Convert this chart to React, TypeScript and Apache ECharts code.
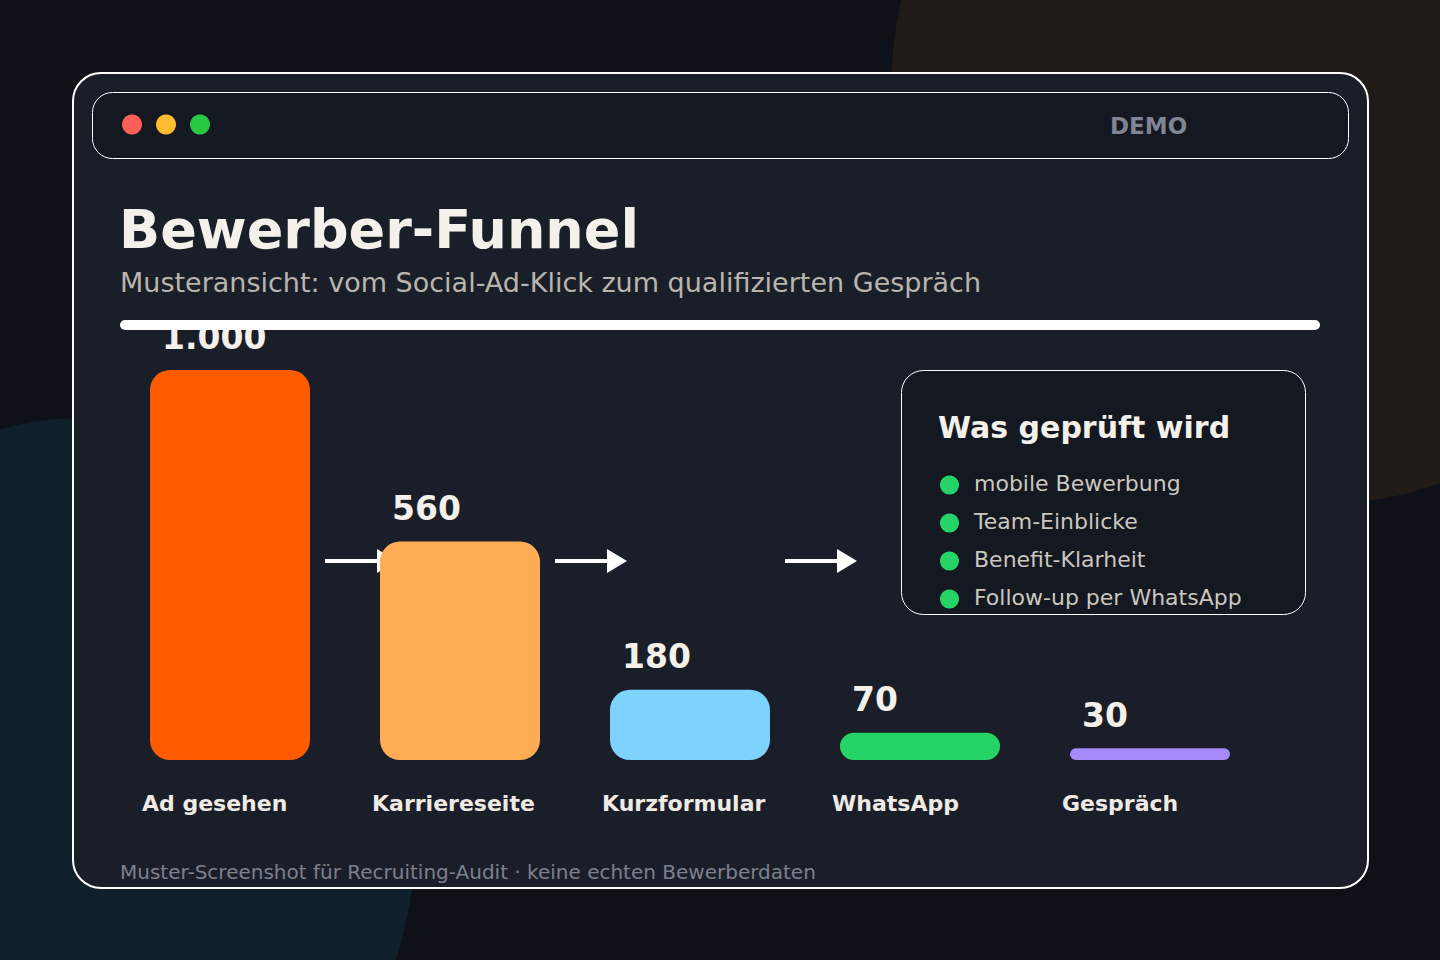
import React, { useEffect, useRef } from "react";
import * as echarts from "echarts";

const stages = ["Ad gesehen", "Karriereseite", "Kurzformular", "WhatsApp", "Gespräch"];
const counts = [1000, 560, 180, 70, 30];
const stageColors = ["#ff5c00", "#ffad55", "#7dd3fc", "#25d366", "#a78bfa"];
const checklist = ["mobile Bewerbung", "Team-Einblicke", "Benefit-Klarheit", "Follow-up per WhatsApp"];
const titleText = "Bewerber-Funnel";
const subtitleText = "Musteransicht: vom Social-Ad-Klick zum qualifizierten Gespräch";
const panelTitle = "Was geprüft wird";
const badgeText = "DEMO";
const footerText = "Muster-Screenshot für Recruiting-Audit · keine echten Bewerberdaten";
const windowDots = ["#ff5f57", "#febc2e", "#28c840"];

const FONT = '"DejaVu Sans", "Noto Sans", sans-serif';

function fmt(v: number): string {
  return String(v).replace(/\B(?=(\d{3})+(?!\d))/g, ".");
}

export default function App() {
  const ref = useRef<HTMLDivElement>(null);

  useEffect(() => {
    if (!ref.current) return;
    const chart = echarts.init(ref.current, null, { renderer: "svg" });

    const option: any = {
      animation: false,
      backgroundColor: "#0e1117",
      grid: { left: 115, right: 175, top: 370, bottom: 200, containLabel: false },
      xAxis: {
        type: "category",
        data: stages,
        axisLine: { show: false },
        axisTick: { show: false },
        splitLine: { show: false },
        axisLabel: {
          margin: 32,
          formatter: (v: string) => "{a|" + v + "}",
          rich: {
            a: {
              width: 176,
              align: "left",
              color: "#efebe4",
              fontSize: 22,
              fontWeight: "bold",
              fontFamily: FONT,
            },
          },
        },
      },
      yAxis: {
        type: "value",
        min: 0,
        max: 1000,
        show: false,
        splitLine: { show: false },
      },
      series: [
        {
          type: "bar",
          barWidth: 160,
          data: counts.map((v, i) => ({ value: v, itemStyle: { color: stageColors[i] } })),
          itemStyle: { borderRadius: 20 },
          label: {
            show: true,
            position: [12, -33],
            align: "left",
            verticalAlign: "middle",
            formatter: (p: any) => fmt(p.value),
            color: "#f4f1ea",
            fontSize: 33,
            fontWeight: "bold",
            fontFamily: FONT,
          },
        },
      ],
    };
    chart.setOption(option);

    const g: any[] = [];
    // background blobs
    g.push({ type: "circle", z: -30, silent: true, shape: { cx: 1305, cy: 92, r: 414 }, style: { fill: "#201b16" } });
    g.push({ type: "ellipse", z: -30, silent: true, shape: { cx: 80, cy: 820, rx: 337, ry: 402 }, style: { fill: "#10202b" } });
    // card
    g.push({
      type: "rect", z: -20, silent: true,
      shape: { x: 73, y: 73, width: 1295, height: 815, r: 28 },
      style: { fill: "#1a1e29", stroke: "#ffffff", lineWidth: 2 },
    });
    // header bar
    g.push({
      type: "rect", z: -10, silent: true,
      shape: { x: 92.5, y: 92.5, width: 1256, height: 66, r: 20 },
      style: { fill: "#141821", stroke: "#ffffff", lineWidth: 1 },
    });
    windowDots.forEach((c, i) => {
      g.push({ type: "circle", z: -5, silent: true, shape: { cx: 132 + i * 34, cy: 124.5, r: 10 }, style: { fill: c } });
    });
    g.push({
      type: "text", z: -5, silent: true, x: 1110, y: 126,
      style: { text: badgeText, fill: "#7f8593", fontSize: 23, fontWeight: "bold", fontFamily: FONT, align: "left", verticalAlign: "middle" },
    });
    // title + subtitle
    g.push({
      type: "text", z: -5, silent: true, x: 119, y: 229,
      style: { text: titleText, fill: "#f4f1ea", fontSize: 54, fontWeight: "bold", fontFamily: FONT, align: "left", verticalAlign: "middle" },
    });
    g.push({
      type: "text", z: -5, silent: true, x: 120, y: 282,
      style: { text: subtitleText, fill: "#b9b5ae", fontSize: 27, fontFamily: FONT, align: "left", verticalAlign: "middle" },
    });
    // thick white rule (drawn above the bars' labels)
    g.push({
      type: "line", z: 50, silent: true,
      shape: { x1: 125, y1: 325, x2: 1315, y2: 325 },
      style: { stroke: "#ffffff", lineWidth: 10, lineCap: "round" },
    });
    // arrows between stages
    for (let i = 0; i < 3; i++) {
      const cx = chart.convertToPixel({ xAxisIndex: 0 }, stages[i]) as number;
      const ay = 561;
      g.push({
        type: "line", z: 1, silent: true,
        shape: { x1: cx + 95, y1: ay, x2: cx + 150, y2: ay },
        style: { stroke: "#ffffff", lineWidth: 4 },
      });
      g.push({
        type: "polygon", z: 1, silent: true,
        shape: { points: [[cx + 147, ay - 12], [cx + 167, ay], [cx + 147, ay + 12]] },
        style: { fill: "#ffffff" },
      });
    }
    // checklist panel
    g.push({
      type: "rect", z: -5, silent: true,
      shape: { x: 901.5, y: 370.5, width: 404, height: 244, r: 22 },
      style: { fill: "#141821", stroke: "#ffffff", lineWidth: 1 },
    });
    g.push({
      type: "text", z: 0, silent: true, x: 938, y: 427,
      style: { text: panelTitle, fill: "#f4f1ea", fontSize: 30, fontWeight: "bold", fontFamily: FONT, align: "left", verticalAlign: "middle" },
    });
    checklist.forEach((t, i) => {
      const y = 485 + i * 38;
      g.push({ type: "circle", z: 0, silent: true, shape: { cx: 949.5, cy: y, r: 9.5 }, style: { fill: "#25d366" } });
      g.push({
        type: "text", z: 0, silent: true, x: 974, y: y - 1.5,
        style: { text: t, fill: "#cbc7bf", fontSize: 22, fontFamily: FONT, align: "left", verticalAlign: "middle" },
      });
    });
    // footer
    g.push({
      type: "text", z: 0, silent: true, x: 120, y: 872,
      style: { text: footerText, fill: "#7c818d", fontSize: 20, fontFamily: FONT, align: "left", verticalAlign: "middle" },
    });

    chart.setOption({ graphic: { elements: g } });

    return () => chart.dispose();
  }, []);

  return (
    <div
      ref={ref}
      style={{ position: "fixed", left: 0, top: 0, width: 1440, height: 960 }}
    />
  );
}
